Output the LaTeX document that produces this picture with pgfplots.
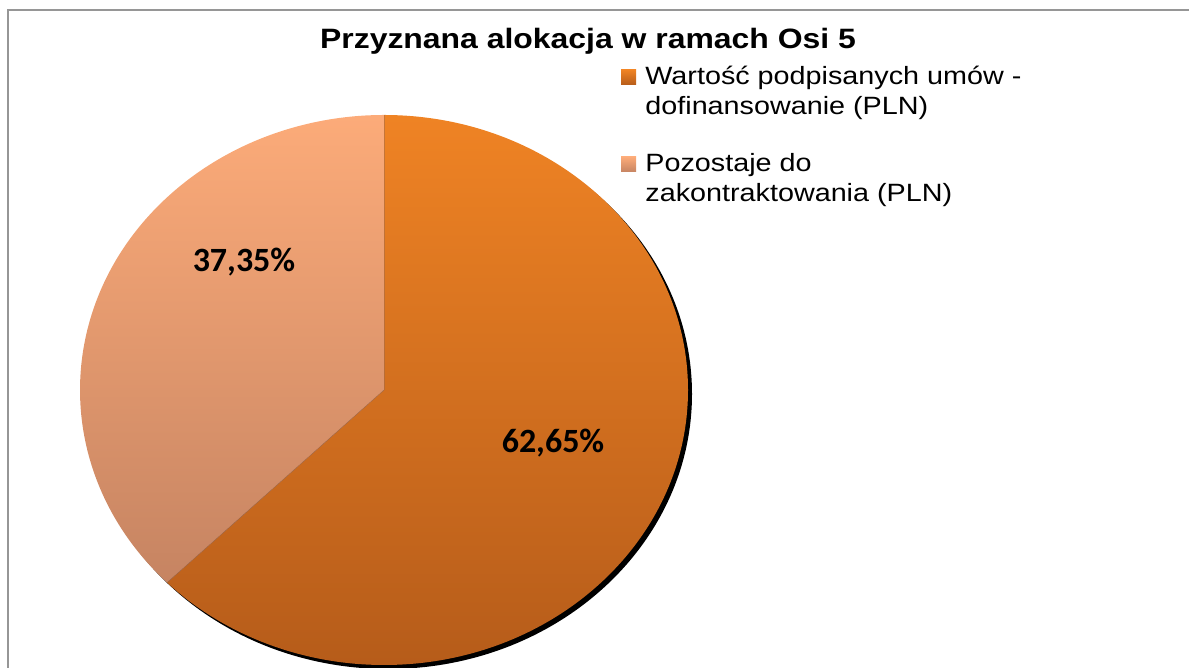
\documentclass[border=0pt]{standalone}
\usepackage{pgfplots}
\pgfplotsset{compat=1.18}
\usepackage{pgfplotstable}
\usepackage{fontspec}
\setmainfont{Liberation Sans}
\newfontfamily\titlefont[FakeStretch=1.14]{Liberation Sans}
\newfontfamily\legfont[FakeStretch=1.15]{Liberation Sans}
\newfontfamily\lblfont{Carlito}

\definecolor{orTop}{RGB}{239,131,36}
\definecolor{orBot}{RGB}{182,92,26}
\definecolor{ltTop}{RGB}{252,171,121}
\definecolor{ltBot}{RGB}{198,132,98}
\definecolor{frame}{RGB}{150,150,150}

% share of the allocation, percent
\pgfplotstableread{
slice share
0 62.65
1 37.35
}\sharetable

\pgfplotstablegetelem{0}{share}\of\sharetable \let\sA\pgfplotsretval
\pgfplotstablegetelem{1}{share}\of\sharetable \let\sB\pgfplotsretval
\pgfmathsetmacro\angA{90-3.6*\sA}
\pgfmathsetmacro\angB{90+3.6*\sB}

\begin{document}
\begin{tikzpicture}
\begin{axis}[
  x=0.5pt, y=0.5pt,
  xmin=0, xmax=1189, ymin=0, ymax=668,
  hide axis, clip=true,
]
% frame
\draw[frame, line width=1pt] (axis cs:8,0) -- (axis cs:8,658) -- (axis cs:1189,658);
% shadow
\fill[black] ([xshift=2pt,yshift=-2pt]axis cs:384,278) ellipse[x radius=152pt, y radius=137.5pt];
% slices
\shade[top color=orTop, bottom color=orBot]
  (axis cs:384,278) -- ++(90:152pt and 137.5pt)
  arc[start angle=90, end angle=\angA, x radius=152pt, y radius=137.5pt] -- cycle;
\shade[top color=ltTop, bottom color=ltBot]
  (axis cs:384,278) -- ++(\angB:152pt and 137.5pt)
  arc[start angle=\angB, end angle=90, x radius=152pt, y radius=137.5pt] -- cycle;
\draw[ltBot!80!black, line width=0.3pt, opacity=0.5] (axis cs:384,278) -- ++(90:152pt and 137.5pt);
\draw[ltBot!80!black, line width=0.3pt, opacity=0.5] (axis cs:384,278) -- ++(\angB:152pt and 137.5pt);
% data labels
\node[font=\lblfont\bfseries\fontsize{17}{19}\selectfont] at (axis cs:244,406) {37,35\%};
\node[font=\lblfont\bfseries\fontsize{17}{19}\selectfont] at (axis cs:553,225) {62,65\%};
% title
\node[font=\titlefont\bfseries\fontsize{14}{16}\selectfont] at (axis cs:588,627) {Przyznana alokacja w ramach Osi 5};
% legend
\shade[top color=orTop, bottom color=orBot] (axis cs:621,598) rectangle (axis cs:636,583);
\shade[top color=ltTop, bottom color=ltBot] (axis cs:621,511) rectangle (axis cs:636,496);
\begin{scope}[every node/.style={anchor=base west, inner sep=0pt, font=\legfont\fontsize{12.5}{14}\selectfont}]
\node at (axis cs:645,583) {Wartość podpisanych umów -};
\node at (axis cs:645,553) {dofinansowanie (PLN)};
\node at (axis cs:645,496) {Pozostaje do};
\node at (axis cs:645,466) {zakontraktowania (PLN)};
\end{scope}
\end{axis}
\pgfresetboundingbox
\path (0,0) rectangle (594.5pt,334pt);
\end{tikzpicture}
\end{document}
